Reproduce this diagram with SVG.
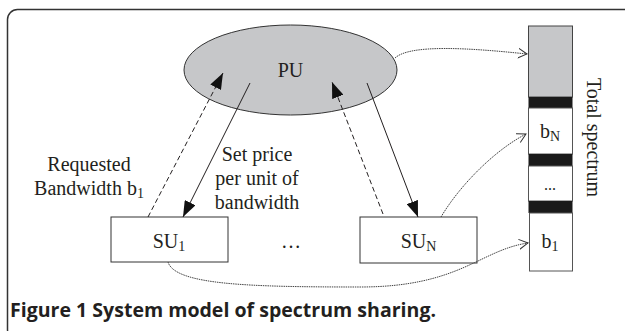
<svg xmlns="http://www.w3.org/2000/svg" width="625" height="331" viewBox="0 0 625 331">
<style>
.t{font-family:"Liberation Serif","Times New Roman",serif;font-size:20px;fill:#231f20}
.sub{font-size:14px}
.cap{font-family:"Open Sans","Liberation Sans",sans-serif;font-weight:700;font-size:19px;fill:#231f20}
.ln{fill:none;stroke:#231f20;stroke-width:1}
.dash{stroke-dasharray:5 3}
.dot{fill:none;stroke:#444;stroke-width:1;stroke-dasharray:1.5 0.8}
.box{fill:#fff;stroke:#333;stroke-width:1}
</style>
<defs>
<marker id="fa" markerUnits="userSpaceOnUse" markerWidth="16" markerHeight="12" refX="16" refY="6" orient="auto">
<path d="M0,0 L16,6 L0,12 Z" fill="#111"/>
</marker>
<marker id="oa" markerUnits="userSpaceOnUse" markerWidth="10" markerHeight="12" refX="9" refY="6" orient="auto">
<path d="M0,1 L9,6 L0,11" fill="none" stroke="#333" stroke-width="1"/>
</marker>
</defs>
<rect id="frame" x="7.5" y="9.5" width="630" height="330" rx="10" fill="#fff" stroke="#333" stroke-width="1.5"/>
<g id="PU">
<ellipse cx="290.5" cy="70" rx="106.5" ry="45" fill="#c6c7c9" stroke="#333" stroke-width="1"/>
<text class="t" x="290.5" y="77" text-anchor="middle">PU</text>
</g>
<g id="SU1">
<rect class="box" x="111" y="217" width="117" height="45"/>
<text class="t" x="169" y="248" text-anchor="middle">SU<tspan class="sub" dy="3">1</tspan></text>
</g>
<g id="SUN">
<rect class="box" x="360" y="217" width="117" height="46"/>
<text class="t" x="418.5" y="248" text-anchor="middle">SU<tspan class="sub" dy="3">N</tspan></text>
</g>
<g id="ellipsis">
<text class="t" x="291" y="248" text-anchor="middle">…</text>
</g>
<g id="spectrum">
<rect x="528.5" y="26" width="44" height="71" fill="#c6c7c9" stroke="#444" stroke-width="1"/>
<rect x="528.5" y="97" width="44" height="11" fill="#1a1a1a"/>
<rect x="528.5" y="108" width="44" height="46" fill="#fff" stroke="#555" stroke-width="1"/>
<rect x="528.5" y="154" width="44" height="12" fill="#1a1a1a"/>
<rect x="528.5" y="166" width="44" height="35" fill="#fff" stroke="#555" stroke-width="1"/>
<rect x="528.5" y="201" width="44" height="12" fill="#1a1a1a"/>
<rect x="529.5" y="213" width="43" height="58" fill="#fff" stroke="#555" stroke-width="1"/>
<text class="t" x="550" y="138" text-anchor="middle">b<tspan class="sub" dy="3">N</tspan></text>
<text class="t" x="550" y="190" text-anchor="middle" style="font-size:16px">...</text>
<text class="t" x="550" y="248" text-anchor="middle">b<tspan class="sub" dy="3">1</tspan></text>
<text class="t" x="587" y="137.5" text-anchor="middle" transform="rotate(90 587 137.5)">Total spectrum</text>
</g>
<g id="connectors">
<line class="ln dash" x1="148" y1="217" x2="223" y2="73" marker-end="url(#fa)"/>
<line class="ln" x1="250" y1="83" x2="183" y2="217" marker-end="url(#fa)"/>
<line class="ln dash" x1="383" y1="214" x2="332" y2="82" marker-end="url(#fa)"/>
<line class="ln" x1="367" y1="83" x2="418" y2="217" marker-end="url(#fa)"/>
<path class="dot" d="M395,58 C410,44 470,48 527,54" marker-end="url(#oa)"/>
<path class="dot" d="M441,217 C460,185 495,150 526,134" marker-end="url(#oa)"/>
<path class="dot" d="M168,262 C175,285 250,287 360,287 C460,287 480,250 528,243" marker-end="url(#oa)"/>
</g>
<g id="labels">
<text class="t" x="89" y="171" text-anchor="middle">Requested</text>
<text class="t" x="89" y="195" text-anchor="middle">Bandwidth b<tspan class="sub" dy="3">1</tspan></text>
<text class="t" x="257" y="161" text-anchor="middle">Set price</text>
<text class="t" x="257" y="185" text-anchor="middle">per unit of</text>
<text class="t" x="257" y="209" text-anchor="middle">bandwidth</text>
</g>
<text id="caption" class="cap" x="10" y="317" textLength="426" lengthAdjust="spacingAndGlyphs">Figure 1 System model of spectrum sharing.</text>
</svg>
